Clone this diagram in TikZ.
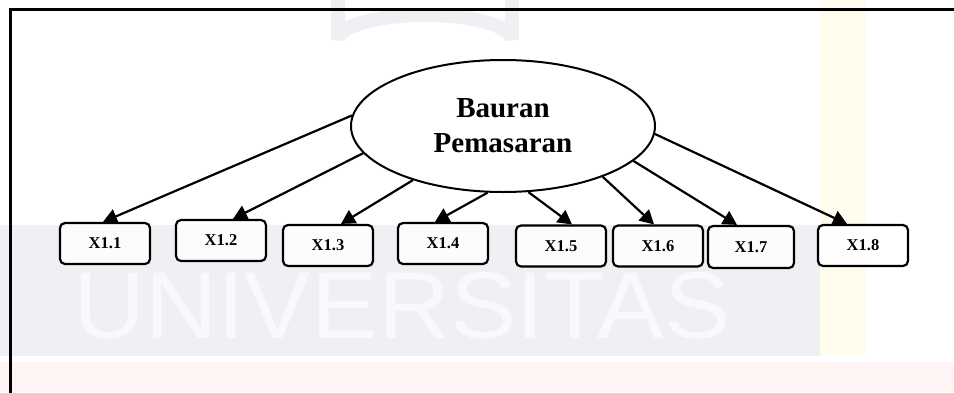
\documentclass[tikz,border=0pt]{standalone}
\usepackage{fontspec}
\setmainfont{Liberation Serif}
\newfontfamily\wmfont{Liberation Sans}
\usetikzlibrary{arrows.meta,shapes.geometric}

\definecolor{wmgrey}{HTML}{EFF0F3}
\definecolor{wmletter}{HTML}{F9F9FB}
\definecolor{wmyellow}{HTML}{FFFCEE}
\definecolor{wmpink}{HTML}{FFF4F4}

\tikzset{
  latent/.style={ellipse, draw, line width=2pt, fill=white, fill opacity=0.85,
    text opacity=1, minimum width=304pt, minimum height=132pt, inner sep=0pt,
    align=center, font=\fontsize{29}{35}\selectfont\bfseries},
  indicator/.style={draw, rounded corners=5pt, line width=2.2pt, fill=white,
    fill opacity=0.85, text opacity=1, minimum width=90pt, minimum height=41pt,
    inner sep=0pt, font=\fontsize{16.5}{18}\selectfont\bfseries},
  loading/.style={line width=2.2pt, -{Triangle[length=14pt,width=15pt]}},
}

\begin{document}
\begin{tikzpicture}[x=1pt, y=-1pt]
  \clip (0,0) rectangle (954,392);

  % faint watermark in the background
  \fill[wmgrey] (0,225) rectangle (820,356);
  \node[wmletter, font=\wmfont\fontsize{95}{95}\selectfont, inner sep=0pt,
        anchor=base west, xscale=1.05] (wm) at (73,338) {UNIVERSITAS};
  \fill[wmyellow] (820,0) rectangle (866,356);
  \fill[wmpink] (0,362) rectangle (954,392);
  \draw[wmgrey, line width=14pt] (338,0) -- (338,40) arc[start angle=180, end angle=360, x radius=87pt, y radius=-25pt] -- (512,0);

  % frame
  \draw[line width=3pt] (10,400) -- (10,9) -- (960,9);

  % latent construct
  \node[latent] (bp) at (503,126) {Bauran\\Pemasaran};

  % indicators
  \node[indicator] (x11) at (105,243.5) {X1.1};
  \node[indicator] (x12) at (221,240.5) {X1.2};
  \node[indicator] (x13) at (328,245.5) {X1.3};
  \node[indicator] (x14) at (443,243.5) {X1.4};
  \node[indicator] (x15) at (561,246)   {X1.5};
  \node[indicator] (x16) at (658,246)   {X1.6};
  \node[indicator, minimum width=86pt, minimum height=42pt] (x17) at (751,247) {X1.7};
  \node[indicator] (x18) at (863,245.5) {X1.8};

  % loadings
  \draw[loading] (bp.176)   -- ([xshift=-2pt]x11.north);
  \draw[loading] (bp.191)   -- ([xshift=12pt]x12.north);
  \draw[loading] (bp.211)   -- ([xshift=13pt]x13.north);
  \draw[loading] (bp.257)   -- ([xshift=-8pt]x14.north);
  \draw[loading] (bp.291)   -- ([xshift=11pt]x15.north);
  \draw[loading] (bp.333)   -- ([xshift=-4pt]x16.north);
  \draw[loading] (bp.345.5) -- ([xshift=-14pt]x17.north);
  \draw[loading] (bp.357.8) -- ([xshift=-16pt]x18.north);
\end{tikzpicture}
\end{document}
